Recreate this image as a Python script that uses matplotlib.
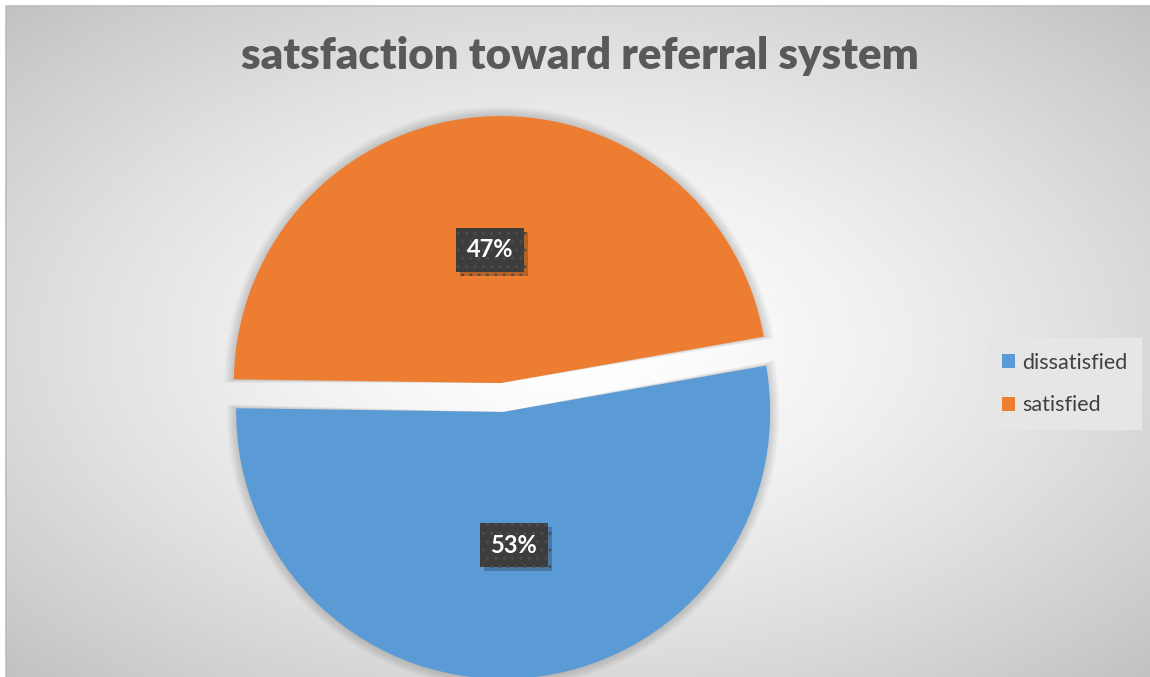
import numpy as np
import matplotlib
matplotlib.use("Agg")
import matplotlib.pyplot as plt
from matplotlib.patches import Wedge
from matplotlib import patheffects as pe

labels = ["dissatisfied", "satisfied"]
values = [53, 47]
colors = ["#5b9bd5", "#ed7d31"]
title = "satsfaction toward referral system"

W, H = 1150, 677
fig = plt.figure(figsize=(W / 100, H / 100), dpi=100)
ax = fig.add_axes([0, 0, 1, 1])

# radial gradient background of the chart area
gx, gy = np.meshgrid(np.linspace(-1, 1, 400), np.linspace(-1, 1, 240))
d = np.sqrt(gx ** 2 + gy ** 2) / np.sqrt(2)
shade = 1.0 - (1.0 - 0.76) * d ** 1.4
ax.imshow(shade, cmap="gray", vmin=0, vmax=1, extent=(6, W, 0, H - 6),
          interpolation="bilinear", zorder=0)
ax.plot([6, 6, W], [0, H - 6, H - 6], color="#bdbdbd", lw=1.2, zorder=1)

radius = 267
wedges, texts, autotexts = ax.pie(
    values, colors=colors, explode=[14.5, 14.5], startangle=10,
    counterclock=False, center=(502, 279.5), radius=radius,
    autopct="%1.0f%%", pctdistance=0.5,
    textprops=dict(color="white", fontsize=17, fontweight="bold", family="Lato"),
    wedgeprops=dict(linewidth=0), frame=True)
ax.set_xlim(0, W)
ax.set_ylim(0, H)
ax.set_aspect("equal")
ax.axis("off")

# soft shadow around the slices
for w in wedges:
    w.set_zorder(3)
    for k in range(1, 9):
        sh = Wedge(w.center, w.r + k * 1.2, w.theta1 - k * 0.1, w.theta2 + k * 0.1,
                   facecolor="black", edgecolor="none", alpha=0.02, zorder=2)
        ax.add_patch(sh)

for t in autotexts:
    t.set_zorder(5)
    t.set_bbox(dict(boxstyle="square,pad=0.45", facecolor="#3d3d3d",
                    edgecolor="#4d4d4d", hatch="..", linewidth=0))
    t.get_bbox_patch().set_path_effects(
        [pe.SimplePatchShadow(offset=(3, -3), shadow_rgbFace="black", alpha=0.22),
         pe.Normal()])

fig.text(580 / W, 1 - 56 / H, title, ha="center", va="center",
         fontsize=31.5, fontweight="heavy", color="#595959", family="Lato")

leg = ax.legend(wedges, labels, loc="center left",
                bbox_to_anchor=(987 / W, 1 - 384 / H), bbox_transform=fig.transFigure,
                frameon=True, fancybox=False, handlelength=0.62, handleheight=0.62,
                handletextpad=0.3, labelspacing=1.05, borderpad=0.7, borderaxespad=0,
                prop=dict(family="Lato", size=15.5))
leg.get_frame().set_facecolor("#e6e6e6")
leg.get_frame().set_edgecolor("none")
leg.get_frame().set_alpha(1)
for t in leg.get_texts():
    t.set_color("#404040")

fig.savefig("out.png", dpi=100)
